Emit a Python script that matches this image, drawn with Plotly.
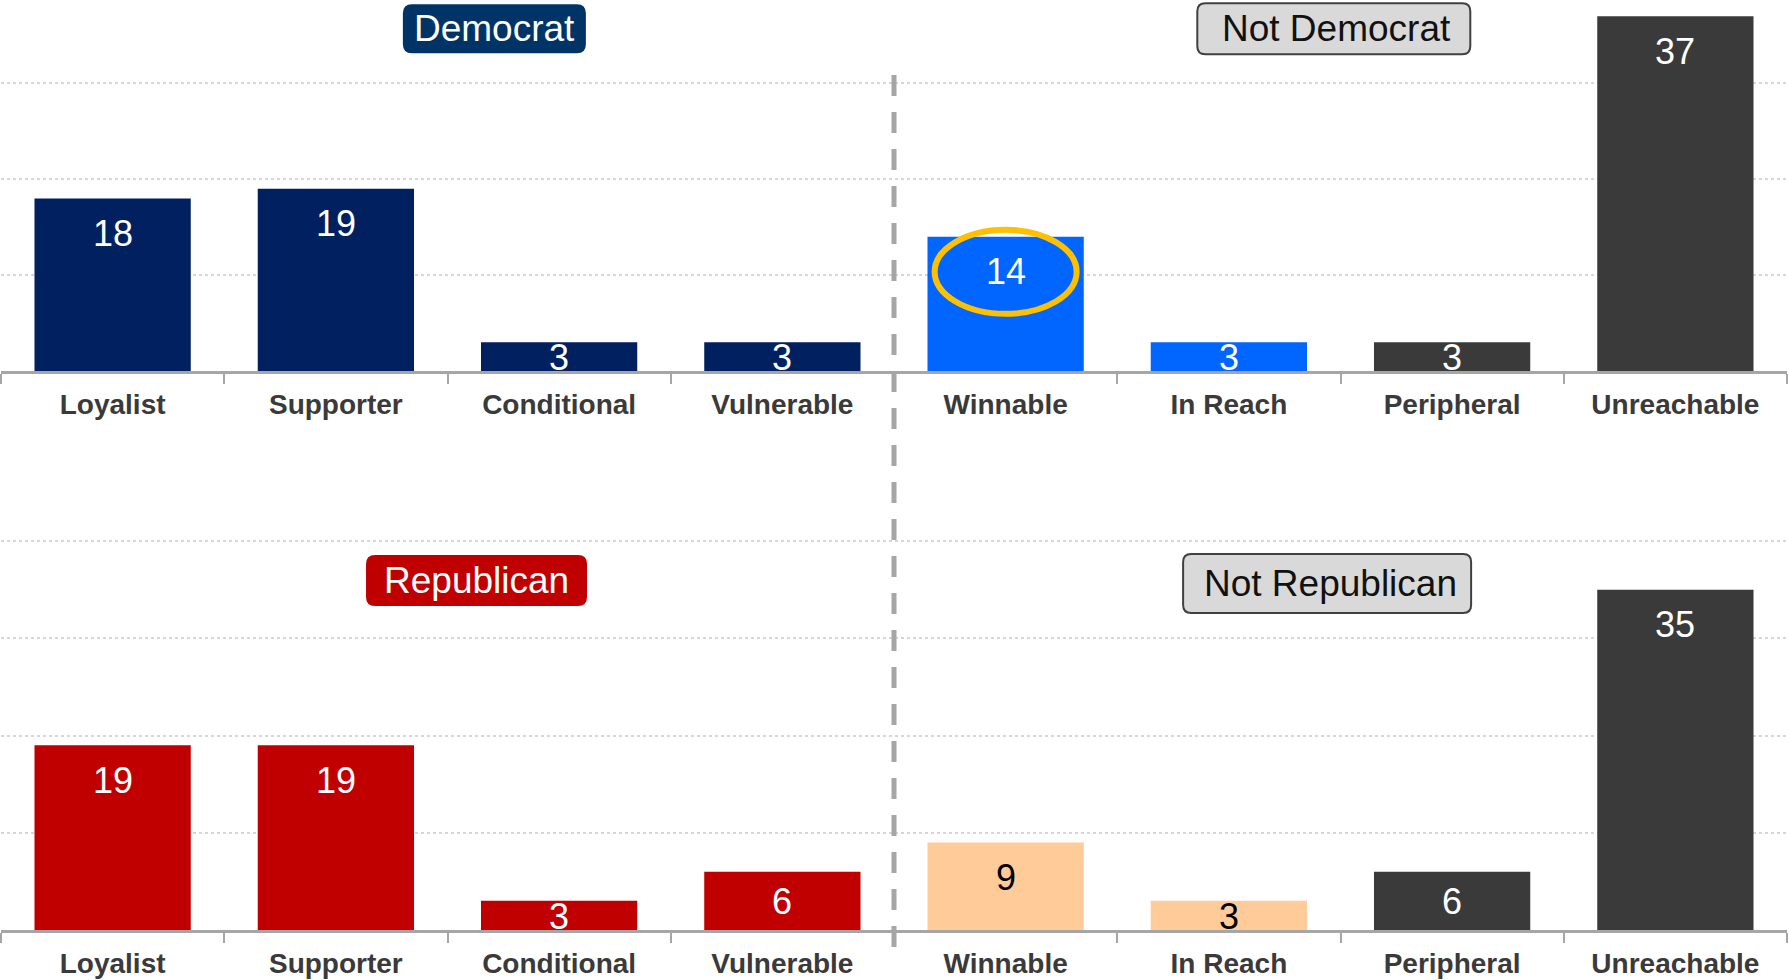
"""
Voter segments by party identification: Democrat / Republican bar panels.
"""

import plotly.graph_objects as go
from plotly.subplots import make_subplots

# Data
categories = ["Loyalist", "Supporter", "Conditional", "Vulnerable",
              "Winnable", "In Reach", "Peripheral", "Unreachable"]
dem_values = [18, 19, 3, 3, 14, 3, 3, 37]
rep_values = [19, 19, 3, 6, 9, 3, 6, 35]

NAVY = "#002060"
BLUE = "#0066FF"
DARK = "#3A3A3A"
RED = "#C00000"
PEACH = "#FFCC99"
GOLD = "#FFC000"
FONT = "Liberation Sans, Arial, sans-serif"

dem_colors = [NAVY] * 4 + [BLUE, BLUE, DARK, DARK]
rep_colors = [RED] * 4 + [PEACH, PEACH, DARK, DARK]
dem_text_colors = ["white"] * 8
rep_text_colors = ["white"] * 4 + ["black", "black", "white", "white"]

# Layout geometry (pixels)
W, H = 1789, 980
M_T, M_B, M_L, M_R = 0, 50, 1, 2
PLOT_H = H - M_T - M_B
TOP_RANGE = 38.7
BOT_RANGE = 45
TOP_DOMAIN = [(PLOT_H - 371) / PLOT_H, 1.0]
BOT_DOMAIN = [0.0, 437.4 / PLOT_H]
top_px = 371 / TOP_RANGE
bot_px = 437.4 / BOT_RANGE


def rounded_box(w, h, r):
    x0, x1, y0, y1 = -w / 2, w / 2, -h / 2, h / 2
    return (f"M {x0 + r},{y0} L {x1 - r},{y0} Q {x1},{y0} {x1},{y0 + r} "
            f"L {x1},{y1 - r} Q {x1},{y1} {x1 - r},{y1} L {x0 + r},{y1} "
            f"Q {x0},{y1} {x0},{y1 - r} L {x0},{y0 + r} Q {x0},{y0} {x0 + r},{y0} Z")


fig = make_subplots(rows=2, cols=1)

for row, vals, cols in [(1, dem_values, dem_colors), (2, rep_values, rep_colors)]:
    fig.add_trace(
        go.Bar(
            x=categories,
            y=vals,
            marker=dict(color=cols, line=dict(width=0)),
            showlegend=False,
            hoverinfo="x+y",
        ),
        row=row, col=1,
    )

# value labels inside the bars, near the top
annotations = []
for yref, vals, tcols, px in [("y", dem_values, dem_text_colors, top_px),
                              ("y2", rep_values, rep_text_colors, bot_px)]:
    xref = "x" if yref == "y" else "x2"
    for cat, v, tc in zip(categories, vals, tcols):
        annotations.append(dict(
            x=cat, y=v, xref=xref, yref=yref,
            text=str(v), showarrow=False,
            yanchor="middle", yshift=-min(35, v * px / 2 + 1),
            font=dict(family=FONT, size=36, color=tc),
        ))

# panel header boxes
boxes = [
    # text, xref, yref, x, y, w, h, fill, border, text colour
    ("Democrat", "x", "y", 1.71, 35.7, 181, 47, "#003366", "#003366", "white"),
    ("Not Democrat", "x", "y", 5.47, 35.7, 273, 51, "#D9D9D9", "#404040", "#111111"),
    ("Republican", "x2", "y2", 1.63, 35.96, 219, 49, RED, RED, "white"),
    ("Not Republican", "x2", "y2", 5.44, 35.65, 288, 59, "#D9D9D9", "#404040", "#111111"),
]
shapes = []
for text, xr, yr, bx, by, bw, bh, fill, border, tc in boxes:
    shapes.append(dict(
        type="path", xref=xr, yref=yr, xsizemode="pixel", ysizemode="pixel",
        xanchor=bx, yanchor=by, path=rounded_box(bw, bh, 8),
        fillcolor=fill, line=dict(color=border, width=2), layer="above",
    ))
    annotations.append(dict(
        x=bx, y=by, xref=xr, yref=yr, text=text, showarrow=False,
        xanchor="center", yanchor="middle", xshift=3 if text.startswith("Not") else 0,
        font=dict(family=FONT, size=37, color=tc),
    ))

# highlight ring round the Winnable value
shapes.append(dict(
    type="circle", xref="x", yref="y", xsizemode="pixel", ysizemode="pixel",
    xanchor="Winnable", yanchor=dem_values[4],
    x0=-71, x1=71, y0=-35 - 42, y1=-35 + 42,
    line=dict(color=GOLD, width=6), fillcolor="rgba(0,0,0,0)",
))

# dashed separator between the two halves (drawn top-down so dashes start at the top)
shapes.append(dict(
    type="line", xref="x", yref="paper", x0=3.5, x1=3.5,
    y0=(PLOT_H - 75) / PLOT_H, y1=(PLOT_H - 955) / PLOT_H,
    line=dict(color="#A6A6A6", width=5, dash="21px,16px"),
))

xaxis_style = dict(
    type="category",
    categoryorder="array",
    categoryarray=categories,
    range=[-0.5, 7.5],
    showgrid=False,
    showline=True,
    linecolor="#A6A6A6",
    linewidth=2.5,
    ticks="outside",
    tickson="boundaries",
    ticklen=10,
    tickwidth=2,
    tickcolor="#A6A6A6",
    ticklabelstandoff=7,
    tickfont=dict(family=FONT, size=28, color="#3A3A3A", weight="bold"),
    fixedrange=True,
)
yaxis_style = dict(
    showticklabels=False,
    showgrid=True,
    gridcolor="#D6D6D6",
    gridwidth=1.5,
    griddash="dot",
    zeroline=False,
    dtick=10,
    ticks="",
    fixedrange=True,
)

fig.update_layout(
    width=W,
    height=H,
    margin=dict(t=M_T, b=M_B, l=M_L, r=M_R, pad=0),
    bargap=0.3,
    plot_bgcolor="white",
    paper_bgcolor="white",
    showlegend=False,
    xaxis=dict(xaxis_style, anchor="y"),
    xaxis2=dict(xaxis_style, anchor="y2"),
    yaxis=dict(yaxis_style, domain=TOP_DOMAIN, range=[0, TOP_RANGE]),
    yaxis2=dict(yaxis_style, domain=BOT_DOMAIN, range=[0, BOT_RANGE]),
    shapes=shapes,
    annotations=annotations,
)

# page body has a default 8px margin; drop it so the figure fills the window
fig.write_html(
    "out.html",
    config={"displayModeBar": False},
    post_script="document.body.style.margin='0';",
)
